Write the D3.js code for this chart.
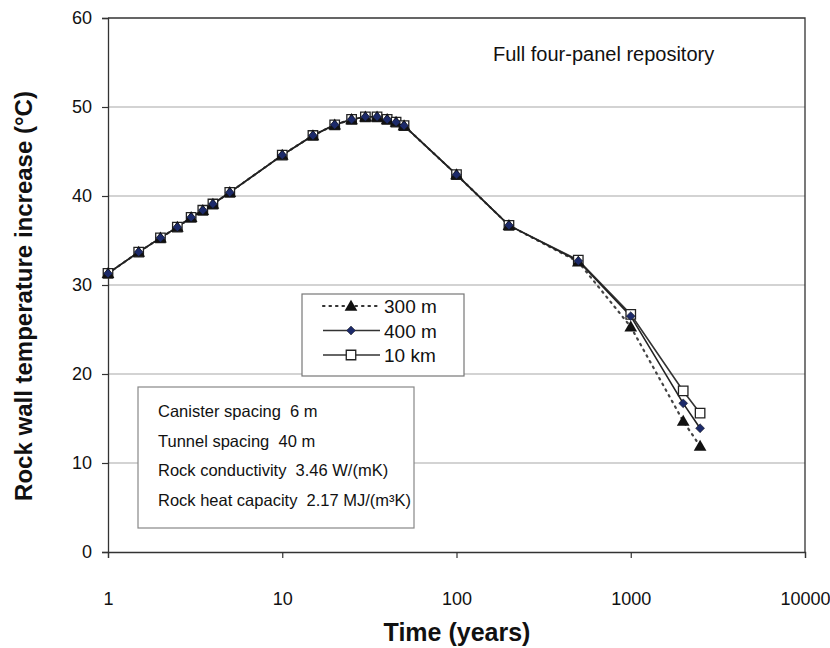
<!DOCTYPE html>
<html>
<head>
<meta charset="utf-8">
<script src="https://cdn.jsdelivr.net/npm/d3@7"></script>
<style>
  body { margin: 0; background: #fff; }
  svg text { font-family: "Liberation Sans", Arial, sans-serif; white-space: pre; }
</style>
</head>
<body>
<div id="chart"></div>
<script>
// time points (years) and rock wall temperature increase (C)
const times = [1, 1.5, 2, 2.5, 3, 3.5, 4, 5, 10, 15, 20, 25, 30, 35, 40, 45, 50, 100, 200, 500, 1000, 2000, 2500]
const temp300m = [31.3, 33.7, 35.3, 36.5, 37.6, 38.4, 39.1, 40.4, 44.6, 46.8, 48.0, 48.6, 48.9, 48.9, 48.6, 48.3, 47.9, 42.4, 36.7, 32.6, 25.3, 14.7, 11.9]
const temp400m = [31.3, 33.7, 35.3, 36.5, 37.6, 38.4, 39.1, 40.4, 44.6, 46.8, 48.0, 48.6, 48.9, 48.9, 48.6, 48.3, 47.9, 42.4, 36.7, 32.7, 26.5, 16.7, 13.9]
const temp10km = [31.3, 33.7, 35.3, 36.5, 37.6, 38.4, 39.1, 40.4, 44.6, 46.8, 48.0, 48.6, 48.9, 48.9, 48.6, 48.3, 47.9, 42.4, 36.7, 32.8, 26.7, 18.1, 15.6]
const seriesNames = ['300 m', '400 m', '10 km']
const xTicks = [1, 10, 100, 1000, 10000]
const yTicks = [0, 10, 20, 30, 40, 50, 60]
const notes = ['Canister spacing  6 m', 'Tunnel spacing  40 m', 'Rock conductivity  3.46 W/(mK)', 'Rock heat capacity  2.17 MJ/(m³K)']

const svgWidth = 830
const svgHeight = 648
const margin = { top: 18, right: 25, bottom: 96, left: 108 }
const width = svgWidth - margin.left - margin.right
const height = svgHeight - margin.top - margin.bottom

const svg = d3.select('#chart').append('svg')
    .attr('width', svgWidth)
    .attr('height', svgHeight)

const g = svg.append('g')
    .attr('transform', 'translate(' + margin.left + ',' + margin.top + ')')

const xScale = d3.scaleLog().domain([1, 10000]).range([0, width])
const yScale = d3.scaleLinear().domain([0, 60]).range([height, 0])

// gridlines
g.append('g')
    .selectAll('line')
    .data(yTicks.filter(d => d > 0 && d < 60))
    .enter().append('line')
    .attr('x1', 0).attr('x2', width)
    .attr('y1', d => yScale(d)).attr('y2', d => yScale(d))
    .attr('stroke', '#a8a8a8')
    .attr('stroke-width', 1.2)

// frame top + right
g.append('path')
    .attr('d', 'M0,0H' + width + 'V' + height)
    .attr('fill', 'none')
    .attr('stroke', '#333')
    .attr('stroke-width', 1.3)

const yAxis = d3.axisLeft(yScale).tickValues(yTicks).tickSize(6).tickPadding(10)
const xAxis = d3.axisBottom(xScale).tickValues(xTicks).tickFormat(d3.format('d')).tickSize(6).tickPadding(34)

const gy = g.append('g').call(yAxis)
const gx = g.append('g').attr('transform', 'translate(0,' + height + ')').call(xAxis)

for (const ax of [gx, gy]) {
    ax.select('.domain').attr('stroke', '#333').attr('stroke-width', 1.3)
    ax.selectAll('.tick line').attr('stroke', '#333').attr('stroke-width', 1.2)
    ax.selectAll('.tick text')
        .attr('font-size', 18)
        .attr('font-family', '"Liberation Sans", Arial, sans-serif')
        .attr('fill', '#111')
}

// axis labels
svg.append('text')
    .attr('transform', 'translate(32,296) rotate(-90)')
    .attr('text-anchor', 'middle')
    .attr('font-size', 24)
    .attr('font-weight', 'bold')
    .attr('fill', '#111')
    .text('Rock wall temperature increase (°C)')

svg.append('text')
    .attr('x', 457)
    .attr('y', 641)
    .attr('text-anchor', 'middle')
    .attr('font-size', 25)
    .attr('font-weight', 'bold')
    .attr('fill', '#111')
    .text('Time (years)')

// lines
const line = d3.line()
    .x((d, i) => xScale(times[i]))
    .y(d => yScale(d))

g.append('path').attr('d', line(temp10km))
    .attr('fill', 'none').attr('stroke', '#333').attr('stroke-width', 1.6)
g.append('path').attr('d', line(temp300m))
    .attr('fill', 'none').attr('stroke', '#444').attr('stroke-width', 2.2)
    .attr('stroke-dasharray', '1.5,5').attr('stroke-linecap', 'round')
g.append('path').attr('d', line(temp400m))
    .attr('fill', 'none').attr('stroke', '#222').attr('stroke-width', 1.6)

// markers
const sqSym = d3.symbol().type(d3.symbolSquare).size(90)
const triSym = d3.symbol().type(d3.symbolTriangle).size(70)
const diaSym = d3.symbol().type(d3.symbolSquare).size(40)

g.append('g').selectAll('path')
    .data(temp10km)
    .enter().append('path')
    .attr('d', sqSym)
    .attr('transform', (d, i) => 'translate(' + xScale(times[i]) + ',' + yScale(d) + ')')
    .attr('fill', '#fff').attr('stroke', '#222').attr('stroke-width', 1.3)

g.append('g').selectAll('path')
    .data(temp300m)
    .enter().append('path')
    .attr('d', triSym)
    .attr('transform', (d, i) => 'translate(' + xScale(times[i]) + ',' + (yScale(d) + 1) + ')')
    .attr('fill', '#111')

g.append('g').selectAll('path')
    .data(temp400m)
    .enter().append('path')
    .attr('d', diaSym)
    .attr('transform', (d, i) => 'translate(' + xScale(times[i]) + ',' + yScale(d) + ') rotate(45)')
    .attr('fill', '#1c2a6a').attr('stroke', '#111').attr('stroke-width', 0.5)

// legend
const legend = svg.append('g').attr('transform', 'translate(302,294)')
legend.append('rect')
    .attr('width', 162).attr('height', 82)
    .attr('fill', '#fff').attr('stroke', '#777').attr('stroke-width', 1.2)

const legendSyms = [triSym, diaSym, sqSym]
seriesNames.forEach(function (name, i) {
    const row = legend.append('g').attr('transform', 'translate(0,' + (12 + i * 24.5) + ')')
    row.append('line')
        .attr('x1', 21).attr('x2', 78)
        .attr('stroke', '#333')
        .attr('stroke-width', i === 0 ? 2.2 : 1.6)
        .attr('stroke-dasharray', i === 0 ? '1.5,5' : null)
        .attr('stroke-linecap', i === 0 ? 'round' : null)
    row.append('path')
        .attr('d', legendSyms[i])
        .attr('transform', 'translate(49,' + (i === 0 ? 1 : 0) + ')' + (i === 1 ? ' rotate(45)' : ''))
        .attr('fill', i === 0 ? '#111' : (i === 1 ? '#1c2a6a' : '#fff'))
        .attr('stroke', i === 0 ? 'none' : '#222')
        .attr('stroke-width', i === 1 ? 0.5 : 1.3)
    row.append('text')
        .attr('x', 82).attr('y', 7)
        .attr('font-size', 19)
        .attr('fill', '#111')
        .text(name)
})

// parameter box
const box = svg.append('g').attr('transform', 'translate(138,387)')
box.append('rect')
    .attr('width', 276).attr('height', 141)
    .attr('fill', '#fff').attr('stroke', '#888').attr('stroke-width', 1.2)
box.selectAll('text')
    .data(notes)
    .enter().append('text')
    .attr('x', 20)
    .attr('y', (d, i) => 30 + i * 29.5)
    .attr('font-size', 16.5)
    .attr('fill', '#111')
    .text(d => d)

svg.append('text')
    .attr('x', 493).attr('y', 61)
    .attr('font-size', 20)
    .attr('fill', '#111')
    .text('Full four-panel repository')
</script>
</body>
</html>
